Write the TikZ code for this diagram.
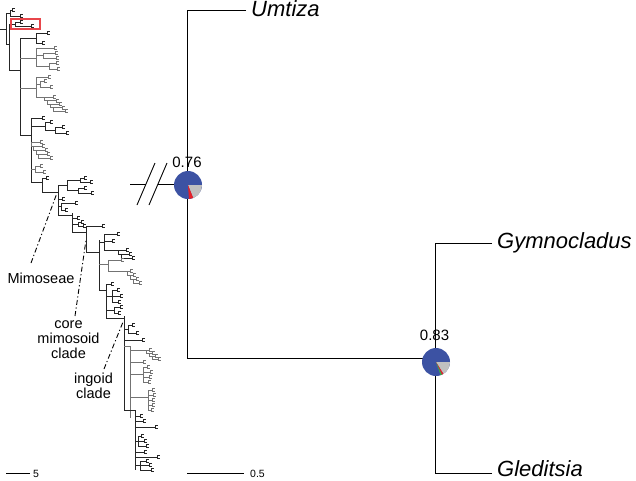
\documentclass[tikz,border=0pt]{standalone}
\usepackage{fontspec}
\setmainfont{Liberation Sans}
\definecolor{pieblue}{RGB}{60,82,163}
\definecolor{piegrey}{RGB}{192,192,192}
\definecolor{piered}{RGB}{230,32,40}
\definecolor{piegreen}{RGB}{60,170,70}
\definecolor{boxred}{RGB}{232,70,75}
\newcommand\lfh[3]{\draw[lfbr] (#1,#3) -- (#2,#3);}
\newcommand\lfv[3]{\draw[lfbr] (#1,#2) -- (#1,#3);}
\newcommand\lffork[2]{\draw[lfbr] (#1+2.5,#2-1.4) -- (#1,#2-1.4) -- (#1,#2+1.4) -- (#1+2.5,#2+1.4);}
\newcommand\lftip[3]{\lfh{#1}{#2}{#3}\lffork{#2}{#3}}
\newcommand\lfladder[6]{\foreach \lfi in {1,...,#3}{\pgfmathsetmacro\lfx{#1+(\lfi-1)*#4}\pgfmathsetmacro\lfy{#2+(\lfi-1)*#5}\lftip{\lfx}{\lfx+#6}{\lfy}\ifnum\lfi<#3\relax\draw[lfbr] (\lfx,\lfy) -- (\lfx,\lfy+#5) -- (\lfx+#4,\lfy+#5);\fi}}
\newcommand\piewedge[4]{\fill[#1] (#2) -- ++(#3:14) arc[start angle=#3,end angle=#4,radius=14] -- cycle;}
\begin{document}
\begin{tikzpicture}[x=1pt,y=-1pt,
  treeb/.style={draw=black!85,line width=0.55pt},
  treeg/.style={draw=black!55,line width=0.55pt},
  lfbr/.style={treeb},
  rtree/.style={draw=black,line width=0.9pt},
  ddash/.style={draw=black,line width=0.9pt,dash pattern=on 5pt off 2.5pt on 1.2pt off 2.5pt},
  spname/.style={font=\fontsize{22}{26}\selectfont\itshape,inner sep=0pt},
  clab/.style={font=\fontsize{14.5}{15}\selectfont,inner sep=0pt,align=center},
  bsupp/.style={font=\fontsize{15}{18}\selectfont,inner sep=0pt},
  sclab/.style={font=\fontsize{10.5}{12}\selectfont,inner sep=0pt}]
\useasboundingbox (0,0) rectangle (636,480);
% ---------------- left overview tree ----------------
\lfh{0}{6}{29}
\lfv{6}{13}{44}
\lfh{6}{10}{13} \lfv{10}{10}{16} \lftip{10}{12}{10} \lftip{10}{20}{16}
\lfh{6}{9}{44} \lfv{9}{24}{70}
\lfh{9}{15}{24} \lfv{15}{22}{26} \lftip{15}{20}{22} \lftip{15}{31}{26}
\lfh{9}{20}{70} \lfv{20}{38}{135}
% B
\lfh{20}{36}{38} \lfv{36}{33}{43} \lftip{36}{47}{33} \lftip{36}{42}{43}
% C
\tikzset{lfbr/.style={treeg}}
\lfh{20}{36}{58} \lfv{36}{48}{66} \lftip{36}{54}{48}
\lfh{36}{43}{55} \lfv{43}{53}{58} \lftip{43}{55}{53} \lftip{43}{56}{58}
\lfh{36}{49}{66} \lfv{49}{63}{69} \lftip{49}{56}{63} \lftip{49}{57}{69}
% D
\lfh{20}{36}{88} \lfv{36}{77}{97}
\lftip{36}{48}{77}
\lfh{36}{40}{84} \lfv{40}{81}{87} \lftip{40}{44}{81} \lftip{40}{50}{87}
\lfh{36}{44}{97}
\lfladder{44}{97}{5}{3}{3.5}{9}
\tikzset{lfbr/.style={treeb}}
% spine
\lfh{20}{31}{135} \lfv{31}{118}{182}
% E
\lftip{31}{42}{118}
\lfh{31}{45}{126} \lfv{45}{122}{130} \lftip{45}{50}{122}
\lfh{45}{55}{130} \lfv{55}{127}{133} \lftip{55}{62}{127} \lftip{55}{66}{133}
% F
\tikzset{lfbr/.style={treeg}}
\lfladder{31}{142}{5}{2.5}{4}{9}
\lfh{31}{35}{169} \lfv{35}{166}{172} \lftip{35}{40}{166} \lftip{35}{43}{172}
\tikzset{lfbr/.style={treeb}}
% towards Mimoseae
\lfh{31}{42}{182} \lfv{42}{178}{192} \lftip{42}{46}{178} \lfh{42}{58}{192}
\lfv{58}{185}{215}
% G
\lfh{58}{67}{185} \lfv{67}{180}{190}
\lfh{67}{80}{180} \lfv{80}{178}{182} \lftip{80}{84}{178} \lftip{80}{90}{182}
\lfh{67}{78}{190} \lfv{78}{188}{193} \lftip{78}{84}{188} \lftip{78}{91}{193}
% below Mimoseae node
\lftip{58}{62}{199}
\lfh{58}{61}{206} \lfv{61}{203}{210} \lftip{61}{75}{203} \lftip{61}{65}{210}
\lfh{58}{72}{215} \lfv{72}{213}{232} \lftip{72}{77}{218}
\lfh{72}{78}{224} \lfv{78}{222}{226} \lftip{78}{81}{222} \lftip{78}{83}{226}
\lfh{72}{86}{232} \lfv{86}{226}{252} \lftip{86}{102}{226}
% core mimosoid
\lfh{86}{99}{252} \lfv{99}{240}{290}
\lfh{99}{104}{242} \lfv{104}{234}{250} \lftip{104}{117}{234} \lftip{104}{112}{241}
\lfh{104}{118}{250} \lfladder{118}{250}{3}{3}{4}{8}
\tikzset{lfbr/.style={treeg}}
\lfh{99}{108}{264} \lfv{108}{260}{271} \lftip{108}{121}{260}
\lfh{108}{127}{271} \lfladder{127}{271}{4}{3}{4}{3}
\tikzset{lfbr/.style={treeb}}
\lfh{99}{106}{290} \lfv{106}{284}{318}
\lftip{106}{111}{284}
\lfh{106}{112}{296} \lfv{112}{290}{302} \lftip{112}{117}{290} \lftip{112}{120}{296} \lftip{112}{118}{302}
\lfh{106}{114}{310} \lfv{114}{307}{313} \lftip{114}{120}{307} \lftip{114}{118}{313}
\lfh{106}{124}{318}
% ingoid
\lfv{124}{316}{410}
\lfh{124}{128}{329} \lfv{128}{325}{333} \lftip{128}{132}{325} \lftip{128}{136}{333}
\lftip{124}{142}{340}
\tikzset{lfbr/.style={treeg}}
\lfh{124}{130}{346} \lfv{130}{346}{418}
\lfh{130}{146}{350} \lfladder{146}{350}{4}{3}{3}{3}
\lftip{130}{143}{362}
\lfh{130}{143}{374} \lfv{143}{367}{382} \lftip{143}{147}{367} \lftip{143}{150}{372} \lftip{143}{149}{377} \lftip{143}{148}{382}
\lfh{130}{148}{397} \lfv{148}{390}{410} \lftip{148}{152}{390} \lftip{148}{153}{395} \lftip{148}{152}{400} \lftip{148}{152}{405} \lftip{148}{151}{410}
\tikzset{lfbr/.style={treeb}}
\lfh{124}{135}{410} \lfv{135}{410}{470}
\lftip{135}{140}{416} \lftip{135}{143}{421}
\lftip{135}{155}{427}
\lfh{135}{138}{441} \lfv{138}{436}{446} \lftip{138}{141}{436} \lftip{138}{144}{441} \lftip{138}{146}{446}
\lftip{135}{144}{452}
\lftip{135}{157}{457}
\lfh{135}{140}{465} \lfv{140}{461}{470} \lftip{140}{146}{461} \lftip{140}{149}{465} \lftip{140}{151}{470}
% red box
\draw[boxred,line width=1.4pt] (11,19) rectangle (40,29);
% clade labels and pointers
\coordinate (mimNode) at (57,193);
\coordinate (mimEnd) at (31,263);
\coordinate (coreNode) at (86,240);
\coordinate (coreEnd) at (75,316);
\coordinate (ingNode) at (123,322);
\coordinate (ingEnd) at (104,369);
\draw[ddash] (mimEnd) -- (mimNode);
\draw[ddash] (coreEnd) -- (coreNode);
\draw[ddash] (ingEnd) -- (ingNode);
\node[clab,anchor=base] (mimLab) at (41,283) {Mimoseae};
\node[clab,anchor=base] (coreLab) at (68.5,358) {core\\mimosoid\\clade};
\node[clab,anchor=base] (ingLab) at (93.5,398) {ingoid\\clade};
% ---------------- right tree ----------------
\coordinate (n1) at (187,184.5);
\coordinate (n2) at (435,358);
\coordinate (umt) at (246,10);
\coordinate (gym) at (492,243);
\coordinate (gle) at (492,473);
\coordinate (brk) at (130,184.5);
\coordinate (brkA) at (146,184.5);
\coordinate (brkB) at (158,184.5);
\draw[rtree] (umt) -| (n1);
\draw[rtree] (n1) |- (n2);
\draw[rtree] (gym) -| (n2);
\draw[rtree] (gle) -| (n2);
\draw[rtree] (brk) -- (brkA);
\draw[rtree] (brkB) -- (n1);
\coordinate (s1a) at (137,205); \coordinate (s1b) at (155,163);
\coordinate (s2a) at (149,205); \coordinate (s2b) at (167,163);
\draw[rtree] (s1a) -- (s1b);
\draw[rtree] (s2a) -- (s2b);
% pies
\coordinate (p1) at (188,185);
\coordinate (p2) at (436,362);
\fill[pieblue] (p1) circle (14);
\piewedge{piegrey}{p1}{0}{68}
\piewedge{piered}{p1}{68}{86}
\fill[pieblue] (p2) circle (14);
\piewedge{piegrey}{p2}{0}{58}
\piewedge{piered}{p2}{58}{65}
\piewedge{piegreen}{p2}{65}{71}
\node[bsupp,anchor=base] (s1) at (187,167) {0.76};
\node[bsupp,anchor=base] (s2) at (434.5,340) {0.83};
% taxa
\node[spname,anchor=base west] (tU) at (251,16) {Umtiza};
\node[spname,anchor=base west] (tGy) at (497,248) {Gymnocladus};
\node[spname,anchor=base west] (tGl) at (497,476.5) {Gleditsia};
% scale bars
\coordinate (sbLa) at (6,473); \coordinate (sbLb) at (30,473);
\coordinate (sbRa) at (187,473); \coordinate (sbRb) at (244,473);
\draw[rtree] (sbLa) -- (sbLb);
\draw[rtree] (sbRa) -- (sbRb);
\node[sclab,anchor=base west] (sl1) at (33,477.5) {5};
\node[sclab,anchor=base west] (sl2) at (250,477.5) {0.5};
\end{tikzpicture}
\end{document}
